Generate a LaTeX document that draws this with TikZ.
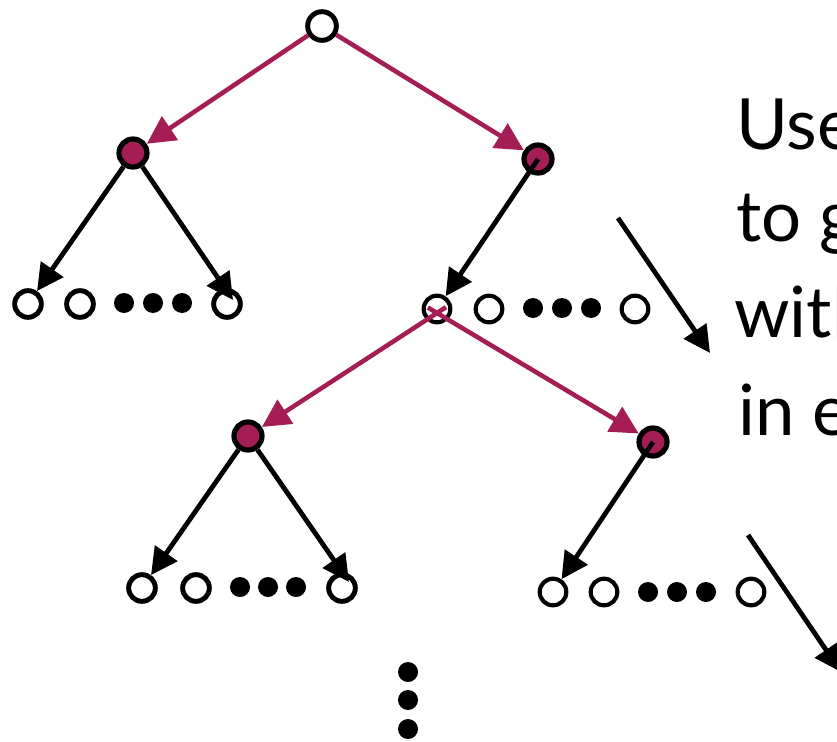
\documentclass[tikz,border=0pt]{standalone}
\usepackage{fontspec}
\setmainfont{Lato}
\usetikzlibrary{arrows.meta,calc}
\definecolor{plum}{RGB}{165,29,85}
\begin{document}
\begin{tikzpicture}[x=0.75pt,y=-0.75pt,
  oc/.style={circle,draw=black,line width=3.7pt,fill=white,minimum size=20pt,inner sep=0pt},
  fc/.style={circle,draw=black,line width=3.9pt,fill=plum,minimum size=21pt,inner sep=0pt},
  dt/.style={circle,fill=black,minimum size=15pt,inner sep=0pt},
  blk/.style={line width=3.6pt,draw=black,-{Triangle[length=20pt,width=20pt]}},
  pnk/.style={line width=3.4pt,draw=plum,-{Triangle[length=21pt,width=21pt]}},
  lbl/.style={anchor=base west,font=\fontsize{53}{62}\selectfont,inner sep=0pt}]
\useasboundingbox (0,0) rectangle (837,741);
\clip (0,0) rectangle (837,741);
\fill[white] (0,0) rectangle (837,741);
% nodes
\node[oc,minimum size=21.5pt] (root) at (322,26) {};
\node[fc] (l1) at (133,153) {};
\node[fc] (r1) at (538,159) {};
% row under l1
\node[oc] (a1) at (28,304) {};
\node[oc] (a2) at (80,304) {};
\node[dt] (ad1) at (124,303) {};
\node[dt] (ad2) at (153,303) {};
\node[dt] (ad3) at (182,303) {};
\node[oc] (a4) at (227,304) {};
% row under r1
\node[oc,line width=3.1pt] (m1) at (437,309) {};
\node[oc,line width=3.1pt] (m2) at (489,309) {};
\node[dt] (md1) at (533,308) {};
\node[dt] (md2) at (562,308) {};
\node[dt] (md3) at (591,308) {};
\node[oc,line width=3.1pt] (m4) at (635,309) {};
% level 3
\node[fc] (l3) at (248,436) {};
\node[fc] (r3) at (653,442) {};
\node[oc] (b1) at (142,588) {};
\node[oc] (b2) at (196,588) {};
\node[dt] (bd1) at (240,587) {};
\node[dt] (bd2) at (268,587) {};
\node[dt] (bd3) at (296,587) {};
\node[oc] (b4) at (342,588) {};
\node[oc,line width=3.1pt] (c1) at (553,592) {};
\node[oc,line width=3.1pt] (c2) at (604,592) {};
\node[dt] (cd1) at (648,592) {};
\node[dt] (cd2) at (677,592) {};
\node[dt] (cd3) at (706,592) {};
\node[oc,line width=3.1pt] (c4) at (751,592) {};
% vertical dots
\node[dt] (v1) at (408,672) {};
\node[dt] (v2) at (408,700) {};
\node[dt] (v3) at (408,729) {};
% connectors
\draw[pnk] (root) -- (l1);
\draw[pnk] (root) -- (r1);
\draw[pnk,shorten <=-8pt] ([yshift=-3pt]m1.center) -- (l3);
\draw[pnk,shorten <=-8pt] ([yshift=-3pt]m1.center) -- (r3);
\draw[blk] (l1) -- (a1);
\draw[blk] (l1) -- ($(a4.center)+(6,-4)$);
\draw[blk] (r1.center) -- (m1);
\draw[blk] (l3) -- (b1);
\draw[blk] (l3) -- ($(b4.center)+(7,-6)$);
\draw[blk] (r3.center) -- (c1);
% free arrows
\coordinate (f1s) at (618,218);
\coordinate (f1e) at (710,353);
\coordinate (f2s) at (748,535);
\coordinate (f2e) at (841,672);
\draw[blk] (f1s) -- (f1e);
\draw[blk] (f2s) -- (f2e);
% text
\node[lbl] (t1) at (736,150) {Use};
\node[lbl] (t2) at (736,242) {to g};
\node[lbl] (t3) at (734,337) {with};
\node[lbl] (t4) at (738,435) {in e};
\end{tikzpicture}
\end{document}
